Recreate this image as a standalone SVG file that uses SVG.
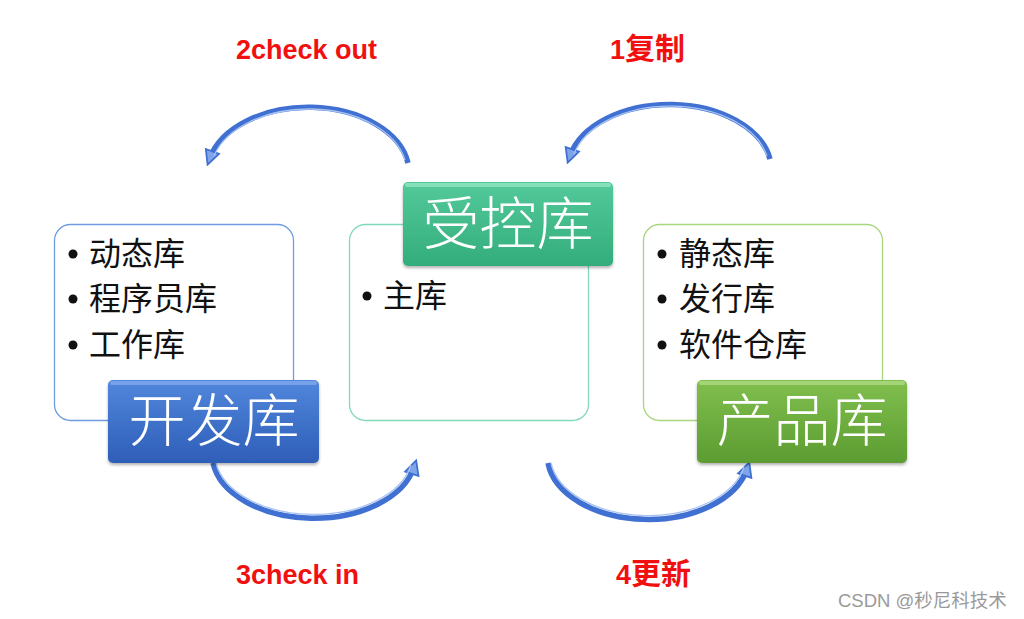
<svg xmlns="http://www.w3.org/2000/svg" width="1024" height="619" viewBox="0 0 1024 619">
<style>
.item{font-family:"Noto Sans CJK SC","Liberation Sans",sans-serif;font-size:32px;fill:#111}
.title{font-family:"Noto Sans CJK SC","Liberation Sans",sans-serif;font-size:57px;fill:#fff;text-anchor:middle;font-weight:300}
.step{font-family:"Liberation Sans","Noto Sans CJK SC",sans-serif;font-size:27px;font-weight:bold;fill:#f01010}
.cjk{font-size:30px}
.arc{fill:none;stroke:#3f70d2;stroke-width:5.5;stroke-linecap:butt}
.arch{fill:none;stroke:#a9c4f2;stroke-width:1.3}
.wm{font-family:"Liberation Sans","Noto Sans CJK SC",sans-serif;font-size:18.5px;fill:#9a9a9a}
</style>
<defs>
<linearGradient id="gBlue" x1="0" y1="0" x2="0" y2="1"><stop offset="0" stop-color="#5187dc"/><stop offset="1" stop-color="#2e5db8"/></linearGradient>
<linearGradient id="gTeal" x1="0" y1="0" x2="0" y2="1"><stop offset="0" stop-color="#54c99a"/><stop offset="1" stop-color="#33ad7c"/></linearGradient>
<linearGradient id="gGreen" x1="0" y1="0" x2="0" y2="1"><stop offset="0" stop-color="#80bf4e"/><stop offset="1" stop-color="#5c9c31"/></linearGradient>
<filter id="sh" x="-10%" y="-10%" width="120%" height="130%"><feDropShadow dx="0" dy="2" stdDeviation="1.5" flood-color="#000" flood-opacity="0.3"/></filter>
<marker id="ah" viewBox="0 0 10 10" refX="5" refY="5" markerWidth="3.2" markerHeight="3.2" orient="auto" markerUnits="strokeWidth">
<path d="M1,1 L9,5 L1,9 Z" fill="#7fa4ea" stroke="#3f70d2" stroke-width="1"/>
</marker>
</defs>

<g id="connectors">
<path class="arc" d="M408,163 A101 66 0 0 0 210,158" marker-end="url(#ah)"/>
<path class="arch" d="M405,160 A98 63 0 0 0 214,156"/>
<path class="arc" d="M770,159 A102 66 0 0 0 570,156" marker-end="url(#ah)"/>
<path class="arch" d="M767,156 A99 63 0 0 0 574,154"/>
<path class="arc" d="M213,463 A102 64 0 0 0 414,467" marker-end="url(#ah)"/>
<path class="arch" d="M216,463 A99 61 0 0 0 411,465"/>
<path class="arc" d="M548,463 A101 64 0 0 0 747,469" marker-end="url(#ah)"/>
<path class="arch" d="M551,463 A98 61 0 0 0 744,467"/>
</g>

<g id="dev">
<rect x="54.5" y="224.5" width="239" height="196" rx="16" fill="#fff" stroke="#6f9be2" stroke-width="1.3"/>
<circle cx="73" cy="254" r="4.5" fill="#111"/>
<text class="item" x="89" y="265">动态库</text>
<circle cx="73" cy="299" r="4.5" fill="#111"/>
<text class="item" x="89" y="310">程序员库</text>
<circle cx="73" cy="345" r="4.5" fill="#111"/>
<text class="item" x="89" y="356">工作库</text>
<rect x="108" y="380" width="211" height="83" rx="5" fill="url(#gBlue)" filter="url(#sh)"/>
<rect x="110" y="381" width="207" height="4" rx="2" fill="#86aef0" opacity="0.7"/>
<text class="title" x="214" y="441">开发库</text>
</g>

<g id="ctrl">
<rect x="349.5" y="224.5" width="239" height="196" rx="16" fill="#fff" stroke="#82d9b8" stroke-width="1.3"/>
<circle cx="367" cy="296" r="4.5" fill="#111"/>
<text class="item" x="383" y="307">主库</text>
<rect x="403" y="182" width="210" height="84" rx="5" fill="url(#gTeal)" filter="url(#sh)"/>
<rect x="405" y="183" width="206" height="4" rx="2" fill="#9be8c8" opacity="0.7"/>
<text class="title" x="508" y="244">受控库</text>
</g>

<g id="prod">
<rect x="643.5" y="224.5" width="239" height="196" rx="16" fill="#fff" stroke="#a8d67e" stroke-width="1.3"/>
<circle cx="662" cy="254" r="4.5" fill="#111"/>
<text class="item" x="679" y="265">静态库</text>
<circle cx="662" cy="299" r="4.5" fill="#111"/>
<text class="item" x="679" y="310">发行库</text>
<circle cx="662" cy="345" r="4.5" fill="#111"/>
<text class="item" x="679" y="356">软件仓库</text>
<rect x="697" y="380" width="210" height="83" rx="5" fill="url(#gGreen)" filter="url(#sh)"/>
<rect x="699" y="381" width="206" height="4" rx="2" fill="#b3e08a" opacity="0.7"/>
<text class="title" x="802" y="441">产品库</text>
</g>

<g id="labels">
<text class="step" x="236" y="59">2check out</text>
<text class="step" x="610" y="59">1<tspan class="cjk">复制</tspan></text>
<text class="step" x="236" y="584">3check in</text>
<text class="step" x="616" y="584">4<tspan class="cjk">更新</tspan></text>
<text class="wm" x="838" y="607">CSDN @秒尼科技术</text>
</g>
</svg>
